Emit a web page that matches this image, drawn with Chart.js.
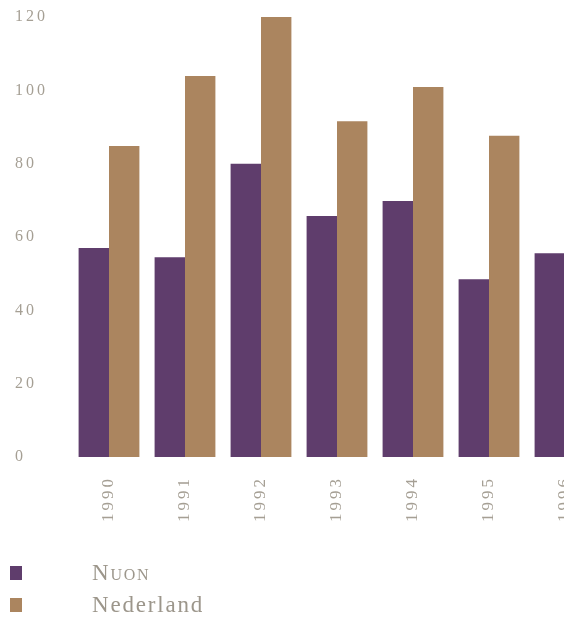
<!DOCTYPE html>
<html>
<head>
<meta charset="utf-8">
<script src="https://cdn.jsdelivr.net/npm/chart.js@4/dist/chart.umd.min.js"></script>
<style>
  html, body { margin:0; padding:0; background:#fff; width:564px; height:619px; overflow:hidden; }
  #wrap { position:absolute; left:0; top:0; width:610px; height:545px; }
  #legend { position:absolute; left:0; top:0; width:564px; height:619px; pointer-events:none; }
  .li { position:absolute; left:0; font-family:"Liberation Serif", serif; font-size:23px; line-height:24px; color:#9c968b; }
  .sw { position:absolute; left:10px; width:12px; height:14px; }
  .tx { position:absolute; left:92px; white-space:nowrap; letter-spacing:1.8px; }
</style>
</head>
<body>
<div id="wrap"><canvas id="c"></canvas></div>
<div id="legend"></div>
<script>
const years = ["1990","1991","1992","1993","1994","1995","1996"];
const nuon = [57, 54.5, 80, 65.7, 69.8, 48.5, 55.6];
const nederland = [84.8, 103.9, 120, 91.6, 100.9, 87.6, null];
const seriesNames = ["Nuon", "Nederland"];
const seriesColors = ["#5f3d6c", "#ab855f"];
const yTicks = [0, 20, 40, 60, 80, 100, 120];

const spacing = {
  id: 'spacing',
  beforeInit(c) { c.ctx.letterSpacing = '3px'; },
  beforeUpdate(c) { c.ctx.letterSpacing = '3px'; },
  beforeDraw(c) { c.ctx.letterSpacing = '3px'; }
};

const chart = new Chart(document.getElementById('c'), {
  type: 'bar',
  plugins: [spacing],
  data: {
    labels: years,
    datasets: [
      { label: seriesNames[0], data: nuon, backgroundColor: seriesColors[0], borderWidth: 0 },
      { label: seriesNames[1], data: nederland, backgroundColor: seriesColors[1], borderWidth: 0 }
    ]
  },
  options: {
    responsive: true,
    maintainAspectRatio: false,
    animation: false,
    layout: { padding: { left: 15, right: 7, top: 17, bottom: 0 } },
    plugins: { legend: { display: false }, tooltip: { enabled: false } },
    datasets: { bar: { categoryPercentage: 0.8, barPercentage: 1.0 } },
    scales: {
      x: {
        grid: { display: false },
        border: { display: false },
        ticks: {
          color: '#a59f94',
          font: { family: 'Liberation Serif', size: 17 },
          minRotation: 90, maxRotation: 90,
          padding: 11
        },
        afterFit: s => { s.height = 88; }
      },
      y: {
        min: 0, max: 120,
        afterBuildTicks: s => { s.ticks = yTicks.map(v => ({ value: v })); },
        grid: { display: false },
        border: { display: false },
        ticks: {
          color: '#a59f94',
          font: { family: 'Liberation Serif', size: 16 },
          crossAlign: 'far',
          padding: 0
        },
        afterFit: s => { s.width = 56; }
      }
    }
  }
});

const lg = document.getElementById('legend');
const tops = [566, 598];
chart.data.datasets.forEach((ds, i) => {
  const sw = document.createElement('div');
  sw.className = 'sw';
  sw.style.top = (tops[i]) + 'px';
  sw.style.background = ds.backgroundColor;
  lg.appendChild(sw);
  const tx = document.createElement('div');
  tx.className = 'li tx';
  tx.style.top = (tops[i] - 5) + 'px';
  tx.textContent = ds.label;
  if (i === 0) tx.style.fontVariant = 'small-caps';
  lg.appendChild(tx);
});
</script>
</body>
</html>
